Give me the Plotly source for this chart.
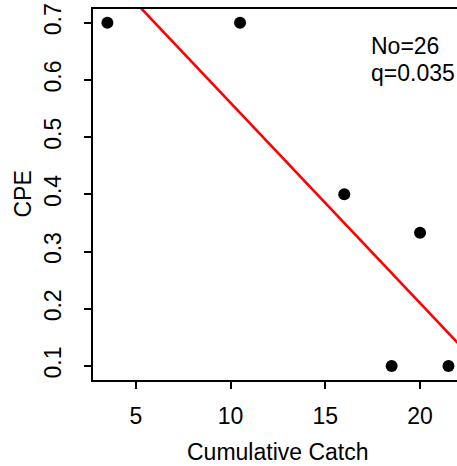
import plotly.graph_objects as go

catch = [3.5, 10.5, 16.0, 18.5, 20.0, 21.5]
cpe = [0.7, 0.7, 0.4, 0.1, 0.333, 0.1]
No = 26
q = 0.035
x_ticks = [5, 10, 15, 20]
y_ticks = [0.1, 0.2, 0.3, 0.4, 0.5, 0.6, 0.7]

FONT = "Liberation Sans, Arial, sans-serif"
fs = 23

W, H = 457, 466
L, R, T, B = 93, 0, 9, 86
pw, ph = W - L - R, H - T - B


def px(xp):
    return (xp - L) / pw


def py(yp):
    return (H - B - yp) / ph


line_x = [0, No]
line_y = [q * (No - v) for v in line_x]

fig = go.Figure()
fig.add_trace(go.Scatter(x=line_x, y=line_y, mode="lines",
                         line=dict(color="#ff0000", width=2.6), showlegend=False))
fig.add_trace(go.Scatter(x=catch, y=cpe, mode="markers",
                         marker=dict(color="black", size=12), showlegend=False,
                         cliponaxis=False))

fig.add_annotation(x=px(369), y=py(46), xref="paper", yref="paper",
                   text="No=%d" % No, showarrow=False, xanchor="left", yanchor="middle",
                   font=dict(family=FONT, size=fs, color="black"))
fig.add_annotation(x=px(369), y=py(73), xref="paper", yref="paper",
                   text="q=%g" % q, showarrow=False, xanchor="left", yanchor="middle",
                   font=dict(family=FONT, size=fs, color="black"))
fig.add_annotation(x=px(278), y=py(452), xref="paper", yref="paper", text="Cumulative Catch",
                   showarrow=False, xanchor="center", yanchor="middle",
                   font=dict(family=FONT, size=fs, color="black"))
fig.add_annotation(x=px(22), y=py(194.5), xref="paper", yref="paper", text="CPE",
                   showarrow=False, xanchor="center", yanchor="middle", textangle=-90,
                   font=dict(family=FONT, size=fs, color="black"))

fig.update_layout(
    width=W, height=H,
    margin=dict(l=L, r=R, t=T, b=B),
    paper_bgcolor="white", plot_bgcolor="white",
    font=dict(family=FONT, size=fs, color="black"),
    xaxis=dict(range=[2.74, 21.95], tickvals=x_ticks, showgrid=False, zeroline=False,
               showline=True, linecolor="black", linewidth=1.5, mirror=True,
               ticks="outside", ticklen=7, tickwidth=1.5, tickcolor="black",
               ticklabelstandoff=8,
               tickfont=dict(family=FONT, size=fs)),
    yaxis=dict(range=[0.0755, 0.724], tickvals=y_ticks, showgrid=False, zeroline=False,
               showline=True, linecolor="black", linewidth=1.5,
               ticks="outside", ticklen=7, tickwidth=1.5, tickcolor="black",
               tickangle=-90, ticklabelstandoff=14,
               tickfont=dict(family=FONT, size=fs)),
)
fig.write_html("out.html")
